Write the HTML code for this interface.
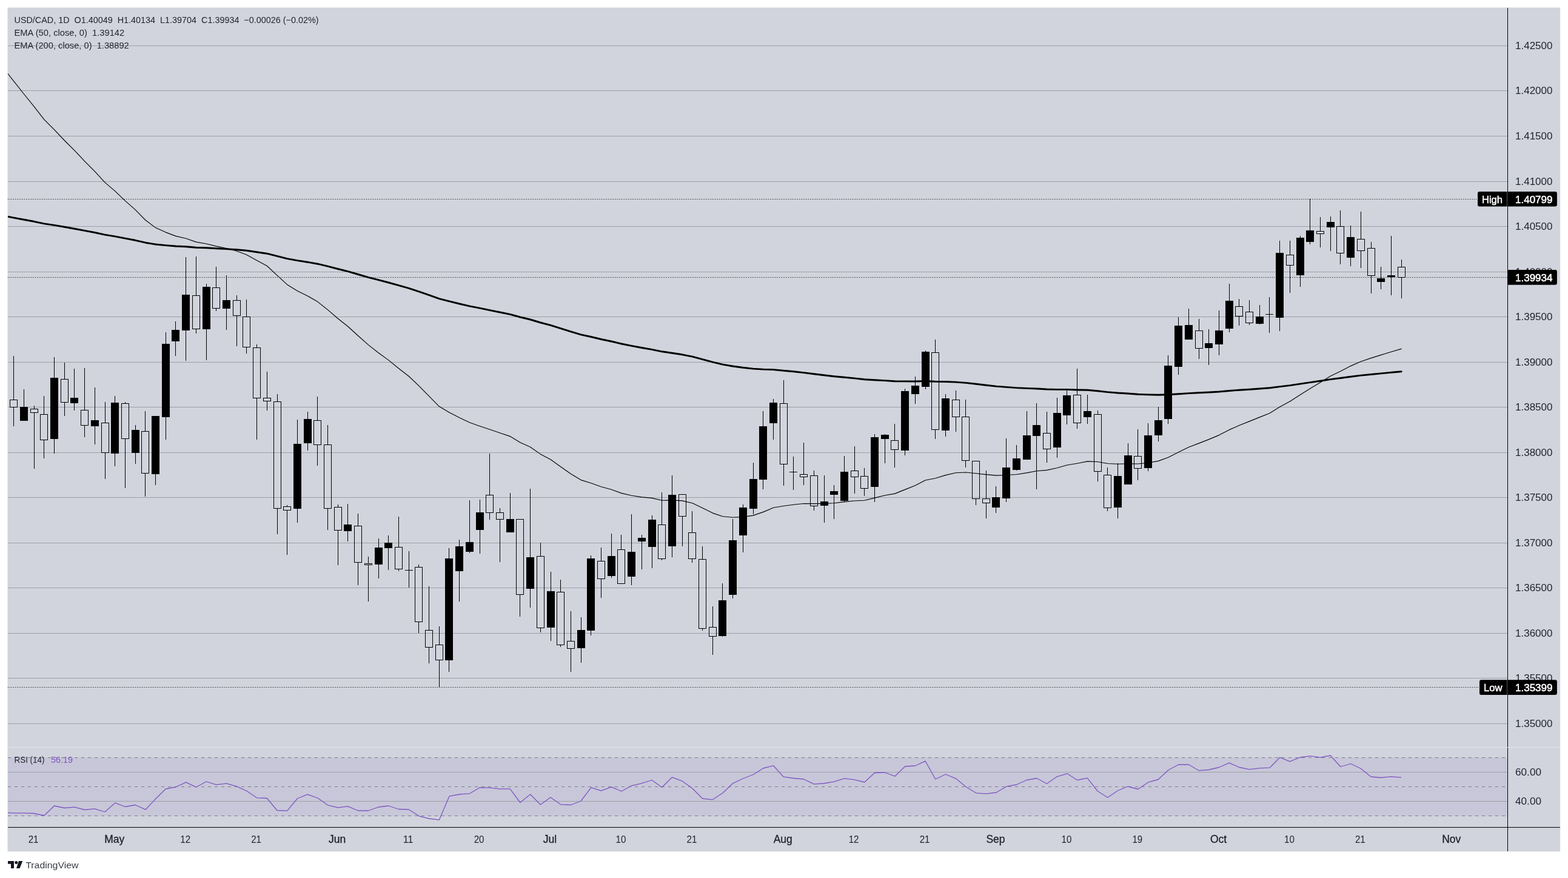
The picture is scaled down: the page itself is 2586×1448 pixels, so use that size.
<!DOCTYPE html>
<html lang="en"><head><meta charset="utf-8"><title>USD/CAD 1D chart</title>
<style>html,body{margin:0;padding:0;background:#fff}body{width:2586px;height:1448px;overflow:hidden}svg{display:block}text{font-family:"Liberation Sans",sans-serif}</style></head><body>
<svg width="2586" height="1448" viewBox="0 0 2586 1448">
<rect width="2586" height="1448" fill="#fff"/>
<rect x="12.5" y="12.5" width="2560.7" height="1391.8" fill="#d1d4dc"/>
<defs><clipPath id="pane"><rect x="13" y="13" width="2473" height="1219"/></clipPath><clipPath id="rpane"><rect x="13" y="1233" width="2473" height="131"/></clipPath></defs>
<g fill="#9d9fa8" shape-rendering="crispEdges">
<rect x="13" y="75" width="2473" height="1"/>
<rect x="13" y="149" width="2473" height="1"/>
<rect x="13" y="224" width="2473" height="1"/>
<rect x="13" y="299" width="2473" height="1"/>
<rect x="13" y="373" width="2473" height="1"/>
<rect x="13" y="448" width="2473" height="1"/>
<rect x="13" y="522" width="2473" height="1"/>
<rect x="13" y="597" width="2473" height="1"/>
<rect x="13" y="671" width="2473" height="1"/>
<rect x="13" y="746" width="2473" height="1"/>
<rect x="13" y="820" width="2473" height="1"/>
<rect x="13" y="895" width="2473" height="1"/>
<rect x="13" y="969" width="2473" height="1"/>
<rect x="13" y="1044" width="2473" height="1"/>
<rect x="13" y="1118" width="2473" height="1"/>
<rect x="13" y="1193" width="2473" height="1"/>
</g>
<rect x="13" y="1249" width="2473" height="97" fill="#7e57c2" fill-opacity="0.1"/>
<g fill="#9d9fa8" shape-rendering="crispEdges"><rect x="13" y="1273" width="2473" height="1"/><rect x="13" y="1321" width="2473" height="1"/></g>
<g stroke="#787b86" stroke-width="1" stroke-dasharray="5 6" shape-rendering="crispEdges">
<line x1="13" y1="1249.5" x2="2486" y2="1249.5"/>
<line x1="13" y1="1297.5" x2="2486" y2="1297.5"/>
<line x1="13" y1="1345.5" x2="2486" y2="1345.5"/>
</g>
<g clip-path="url(#pane)">
<polyline points="6.0,112.8 22.7,133.9 39.4,155.0 56.1,175.6 72.8,197.1 89.5,213.8 106.2,231.5 122.9,248.1 139.6,265.9 156.3,282.7 173.0,300.9 189.7,315.1 206.4,331.1 223.1,345.9 239.9,363.0 256.6,375.6 273.3,383.1 290.0,389.4 306.7,393.2 323.4,399.1 340.1,402.0 356.8,406.1 373.5,409.6 390.2,414.0 406.9,420.2 423.6,429.5 440.3,438.5 457.0,454.2 473.7,469.4 490.4,479.7 507.1,488.0 523.8,497.6 540.5,510.9 557.2,525.2 573.9,538.5 590.6,553.7 607.3,568.6 624.0,581.7 640.7,593.9 657.4,607.5 674.2,620.5 690.9,636.4 707.6,653.3 724.3,670.3 741.0,680.2 757.7,688.8 774.4,696.8 791.1,702.7 807.8,708.2 824.5,714.0 841.2,719.6 857.9,729.8 874.6,737.2 891.3,748.9 908.0,757.8 924.7,769.8 941.4,781.5 958.1,791.6 974.8,796.7 991.5,802.8 1008.2,807.3 1024.9,813.4 1041.6,817.2 1058.3,819.9 1075.0,821.4 1091.7,825.3 1108.5,824.9 1125.2,825.9 1141.9,829.7 1158.6,837.8 1175.3,846.1 1192.0,851.7 1208.7,853.2 1225.4,852.6 1242.1,850.1 1258.8,844.4 1275.5,837.3 1292.2,834.5 1308.9,832.3 1325.6,830.5 1342.3,830.6 1359.0,830.5 1375.7,829.7 1392.4,827.6 1409.1,826.0 1425.8,825.2 1442.5,821.1 1459.2,817.0 1475.9,814.1 1492.6,807.4 1509.3,800.7 1526.1,792.0 1542.8,788.8 1559.5,783.6 1576.2,779.8 1592.9,779.0 1609.6,780.7 1626.3,782.6 1643.0,784.1 1659.7,783.5 1676.4,782.5 1693.1,779.9 1709.8,776.8 1726.5,775.4 1743.2,771.7 1759.9,767.0 1776.6,764.3 1793.3,760.9 1810.0,761.5 1826.7,764.5 1843.4,765.3 1860.1,764.8 1876.8,765.0 1893.5,763.2 1910.2,760.4 1926.9,754.3 1943.6,745.7 1960.4,737.5 1977.1,731.1 1993.8,724.6 2010.5,717.6 2027.2,708.9 2043.9,701.5 2060.6,694.9 2077.3,688.1 2094.0,681.5 2110.7,671.1 2127.4,661.9 2144.1,651.3 2160.8,640.7 2177.5,630.7 2194.2,620.3 2210.9,612.3 2227.6,603.6 2244.3,596.2 2261.0,590.6 2277.7,585.4 2294.4,580.3 2311.1,575.4" fill="none" stroke="#000" stroke-width="1.15" stroke-linejoin="round" stroke-linecap="round" />
<polyline points="6.0,355.9 22.7,359.1 39.4,362.2 56.1,365.3 72.8,368.9 89.5,371.4 106.2,374.3 122.9,377.2 139.6,380.4 156.3,383.5 173.0,387.1 189.7,389.9 206.4,393.2 223.1,396.3 239.9,400.2 256.6,403.0 273.3,404.6 290.0,406.0 306.7,406.8 323.4,408.2 340.1,408.8 356.8,409.8 373.5,410.6 390.2,411.7 406.9,413.3 423.6,415.8 440.3,418.2 457.0,422.4 473.7,426.6 490.4,429.6 507.1,432.2 523.8,435.2 540.5,439.2 557.2,443.5 573.9,447.7 590.6,452.5 607.3,457.3 624.0,461.7 640.7,466.0 657.4,470.7 674.2,475.4 690.9,480.9 707.6,486.7 724.3,492.7 741.0,496.9 757.7,501.0 774.4,504.9 791.1,508.2 807.8,511.6 824.5,515.0 841.2,518.4 857.9,523.0 874.6,527.0 891.3,532.0 908.0,536.4 924.7,541.7 941.4,546.9 958.1,551.8 974.8,555.5 991.5,559.5 1008.2,563.0 1024.9,567.0 1041.6,570.4 1058.3,573.5 1075.0,576.4 1091.7,579.8 1108.5,582.2 1125.2,584.8 1141.9,588.2 1158.6,592.6 1175.3,597.2 1192.0,601.1 1208.7,604.0 1225.4,606.3 1242.1,608.1 1258.8,609.1 1275.5,609.6 1292.2,611.2 1308.9,612.8 1325.6,614.6 1342.3,616.7 1359.0,618.8 1375.7,620.7 1392.4,622.3 1409.1,623.9 1425.8,625.7 1442.5,626.7 1459.2,627.6 1475.9,628.7 1492.6,628.9 1509.3,629.0 1526.1,628.5 1542.8,629.3 1559.5,629.5 1576.2,630.1 1592.9,631.4 1609.6,633.3 1626.3,635.2 1643.0,637.1 1659.7,638.4 1676.4,639.6 1693.1,640.4 1709.8,641.0 1726.5,642.0 1743.2,642.4 1759.9,642.4 1776.6,643.0 1793.3,643.3 1810.0,644.7 1826.7,646.6 1843.4,648.0 1860.1,649.0 1876.8,650.2 1893.5,650.9 1910.2,651.3 1926.9,650.8 1943.6,649.7 1960.4,648.6 1977.1,647.8 1993.8,647.0 2010.5,646.0 2027.2,644.5 2043.9,643.3 2060.6,642.2 2077.3,641.0 2094.0,639.8 2110.7,637.6 2127.4,635.6 2144.1,633.1 2160.8,630.6 2177.5,628.2 2194.2,625.6 2210.9,623.5 2227.6,621.2 2244.3,619.1 2261.0,617.5 2277.7,615.9 2294.4,614.3 2311.1,612.7" fill="none" stroke="#000" stroke-width="2.9" stroke-linejoin="round" stroke-linecap="round" />
</g>
<g stroke="#000" stroke-width="1" stroke-dasharray="1 2" shape-rendering="crispEdges">
<line x1="13" y1="328.5" x2="2437" y2="328.5"/>
<line x1="13" y1="1133.5" x2="2440" y2="1133.5"/>
<line x1="13" y1="457.5" x2="2486" y2="457.5"/>
</g>
<g shape-rendering="crispEdges">
<rect x="22" y="587" width="1" height="72" fill="#000"/>
<rect x="22" y="672" width="1" height="31" fill="#000"/>
<path d="M16 659h13v13h-13zM17 660v11h11v-11z" fill="#000" fill-rule="evenodd"/>
<rect x="39" y="642" width="1" height="52" fill="#000"/>
<rect x="33" y="671" width="13" height="23" fill="#000"/>
<rect x="56" y="669" width="1" height="5" fill="#000"/>
<rect x="56" y="681" width="1" height="92" fill="#000"/>
<path d="M50 674h13v7h-13zM51 675v5h11v-5z" fill="#000" fill-rule="evenodd"/>
<rect x="72" y="653" width="1" height="30" fill="#000"/>
<rect x="72" y="726" width="1" height="30" fill="#000"/>
<path d="M66 683h13v43h-13zM67 684v41h11v-41z" fill="#000" fill-rule="evenodd"/>
<rect x="89" y="589" width="1" height="159" fill="#000"/>
<rect x="83" y="623" width="13" height="101" fill="#000"/>
<rect x="106" y="598" width="1" height="27" fill="#000"/>
<rect x="106" y="664" width="1" height="22" fill="#000"/>
<path d="M100 625h13v39h-13zM101 626v37h11v-37z" fill="#000" fill-rule="evenodd"/>
<rect x="122" y="608" width="1" height="69" fill="#000"/>
<rect x="116" y="656" width="13" height="9" fill="#000"/>
<rect x="139" y="607" width="1" height="69" fill="#000"/>
<rect x="139" y="702" width="1" height="19" fill="#000"/>
<path d="M133 676h13v26h-13zM134 677v24h11v-24z" fill="#000" fill-rule="evenodd"/>
<rect x="156" y="639" width="1" height="94" fill="#000"/>
<rect x="150" y="693" width="13" height="10" fill="#000"/>
<rect x="173" y="663" width="1" height="34" fill="#000"/>
<rect x="173" y="747" width="1" height="43" fill="#000"/>
<path d="M167 697h13v50h-13zM168 698v48h11v-48z" fill="#000" fill-rule="evenodd"/>
<rect x="189" y="653" width="1" height="116" fill="#000"/>
<rect x="183" y="664" width="13" height="84" fill="#000"/>
<rect x="206" y="663" width="1" height="2" fill="#000"/>
<rect x="206" y="724" width="1" height="81" fill="#000"/>
<path d="M200 665h13v59h-13zM201 666v57h11v-57z" fill="#000" fill-rule="evenodd"/>
<rect x="223" y="701" width="1" height="64" fill="#000"/>
<rect x="217" y="709" width="13" height="38" fill="#000"/>
<rect x="239" y="678" width="1" height="33" fill="#000"/>
<rect x="239" y="781" width="1" height="38" fill="#000"/>
<path d="M233 711h13v70h-13zM234 712v68h11v-68z" fill="#000" fill-rule="evenodd"/>
<rect x="256" y="686" width="1" height="114" fill="#000"/>
<rect x="250" y="686" width="13" height="96" fill="#000"/>
<rect x="273" y="548" width="1" height="177" fill="#000"/>
<rect x="267" y="567" width="13" height="121" fill="#000"/>
<rect x="289" y="530" width="1" height="57" fill="#000"/>
<rect x="283" y="544" width="13" height="19" fill="#000"/>
<rect x="306" y="424" width="1" height="171" fill="#000"/>
<rect x="300" y="486" width="13" height="59" fill="#000"/>
<rect x="323" y="423" width="1" height="64" fill="#000"/>
<rect x="323" y="543" width="1" height="7" fill="#000"/>
<path d="M317 487h13v56h-13zM318 488v54h11v-54z" fill="#000" fill-rule="evenodd"/>
<rect x="340" y="468" width="1" height="126" fill="#000"/>
<rect x="334" y="473" width="13" height="70" fill="#000"/>
<rect x="356" y="440" width="1" height="34" fill="#000"/>
<rect x="356" y="509" width="1" height="4" fill="#000"/>
<path d="M350 474h13v35h-13zM351 475v33h11v-33z" fill="#000" fill-rule="evenodd"/>
<rect x="373" y="454" width="1" height="90" fill="#000"/>
<rect x="367" y="495" width="13" height="14" fill="#000"/>
<rect x="390" y="487" width="1" height="8" fill="#000"/>
<rect x="390" y="521" width="1" height="50" fill="#000"/>
<path d="M384 495h13v26h-13zM385 496v24h11v-24z" fill="#000" fill-rule="evenodd"/>
<rect x="406" y="494" width="1" height="28" fill="#000"/>
<rect x="406" y="573" width="1" height="10" fill="#000"/>
<path d="M400 522h13v51h-13zM401 523v49h11v-49z" fill="#000" fill-rule="evenodd"/>
<rect x="423" y="568" width="1" height="5" fill="#000"/>
<rect x="423" y="657" width="1" height="68" fill="#000"/>
<path d="M417 573h13v84h-13zM418 574v82h11v-82z" fill="#000" fill-rule="evenodd"/>
<rect x="440" y="613" width="1" height="43" fill="#000"/>
<rect x="440" y="662" width="1" height="15" fill="#000"/>
<path d="M434 656h13v6h-13zM435 657v4h11v-4z" fill="#000" fill-rule="evenodd"/>
<rect x="457" y="650" width="1" height="12" fill="#000"/>
<rect x="457" y="839" width="1" height="42" fill="#000"/>
<path d="M451 662h13v177h-13zM452 663v175h11v-175z" fill="#000" fill-rule="evenodd"/>
<rect x="473" y="833" width="1" height="2" fill="#000"/>
<rect x="473" y="842" width="1" height="73" fill="#000"/>
<path d="M467 835h13v7h-13zM468 836v5h11v-5z" fill="#000" fill-rule="evenodd"/>
<rect x="490" y="692" width="1" height="170" fill="#000"/>
<rect x="484" y="732" width="13" height="107" fill="#000"/>
<rect x="507" y="679" width="1" height="64" fill="#000"/>
<rect x="501" y="691" width="13" height="40" fill="#000"/>
<rect x="523" y="654" width="1" height="39" fill="#000"/>
<rect x="523" y="734" width="1" height="34" fill="#000"/>
<path d="M517 693h13v41h-13zM518 694v39h11v-39z" fill="#000" fill-rule="evenodd"/>
<rect x="540" y="701" width="1" height="32" fill="#000"/>
<rect x="540" y="839" width="1" height="35" fill="#000"/>
<path d="M534 733h13v106h-13zM535 734v104h11v-104z" fill="#000" fill-rule="evenodd"/>
<rect x="557" y="832" width="1" height="4" fill="#000"/>
<rect x="557" y="875" width="1" height="57" fill="#000"/>
<path d="M551 836h13v39h-13zM552 837v37h11v-37z" fill="#000" fill-rule="evenodd"/>
<rect x="573" y="831" width="1" height="62" fill="#000"/>
<rect x="567" y="865" width="13" height="11" fill="#000"/>
<rect x="590" y="847" width="1" height="20" fill="#000"/>
<rect x="590" y="928" width="1" height="37" fill="#000"/>
<path d="M584 867h13v61h-13zM585 868v59h11v-59z" fill="#000" fill-rule="evenodd"/>
<rect x="607" y="918" width="1" height="11" fill="#000"/>
<rect x="607" y="932" width="1" height="60" fill="#000"/>
<path d="M601 929h13v3h-13zM602 930v1h11v-1z" fill="#000" fill-rule="evenodd"/>
<rect x="624" y="888" width="1" height="66" fill="#000"/>
<rect x="618" y="903" width="13" height="28" fill="#000"/>
<rect x="640" y="883" width="1" height="57" fill="#000"/>
<rect x="634" y="895" width="13" height="9" fill="#000"/>
<rect x="657" y="852" width="1" height="50" fill="#000"/>
<rect x="657" y="939" width="1" height="3" fill="#000"/>
<path d="M651 902h13v37h-13zM652 903v35h11v-35z" fill="#000" fill-rule="evenodd"/>
<rect x="674" y="909" width="1" height="60" fill="#000"/>
<rect x="668" y="940" width="13" height="1" fill="#000"/>
<rect x="690" y="931" width="1" height="4" fill="#000"/>
<rect x="690" y="1026" width="1" height="18" fill="#000"/>
<path d="M684 935h13v91h-13zM685 936v89h11v-89z" fill="#000" fill-rule="evenodd"/>
<rect x="707" y="967" width="1" height="72" fill="#000"/>
<rect x="707" y="1068" width="1" height="26" fill="#000"/>
<path d="M701 1039h13v29h-13zM702 1040v27h11v-27z" fill="#000" fill-rule="evenodd"/>
<rect x="724" y="1033" width="1" height="30" fill="#000"/>
<rect x="724" y="1089" width="1" height="44" fill="#000"/>
<path d="M718 1063h13v26h-13zM719 1064v24h11v-24z" fill="#000" fill-rule="evenodd"/>
<rect x="740" y="904" width="1" height="204" fill="#000"/>
<rect x="734" y="921" width="13" height="168" fill="#000"/>
<rect x="757" y="890" width="1" height="102" fill="#000"/>
<rect x="751" y="901" width="13" height="41" fill="#000"/>
<rect x="774" y="825" width="1" height="87" fill="#000"/>
<rect x="768" y="894" width="13" height="16" fill="#000"/>
<rect x="791" y="824" width="1" height="89" fill="#000"/>
<rect x="785" y="845" width="13" height="29" fill="#000"/>
<rect x="807" y="748" width="1" height="68" fill="#000"/>
<rect x="807" y="846" width="1" height="11" fill="#000"/>
<path d="M801 816h13v30h-13zM802 817v28h11v-28z" fill="#000" fill-rule="evenodd"/>
<rect x="824" y="838" width="1" height="7" fill="#000"/>
<rect x="824" y="857" width="1" height="70" fill="#000"/>
<path d="M818 845h13v12h-13zM819 846v10h11v-10z" fill="#000" fill-rule="evenodd"/>
<rect x="841" y="813" width="1" height="65" fill="#000"/>
<rect x="835" y="856" width="13" height="22" fill="#000"/>
<rect x="857" y="981" width="1" height="36" fill="#000"/>
<path d="M851 856h13v125h-13zM852 857v123h11v-123z" fill="#000" fill-rule="evenodd"/>
<rect x="874" y="806" width="1" height="196" fill="#000"/>
<rect x="868" y="919" width="13" height="52" fill="#000"/>
<rect x="891" y="895" width="1" height="22" fill="#000"/>
<rect x="891" y="1036" width="1" height="7" fill="#000"/>
<path d="M885 917h13v119h-13zM886 918v117h11v-117z" fill="#000" fill-rule="evenodd"/>
<rect x="908" y="943" width="1" height="114" fill="#000"/>
<rect x="902" y="975" width="13" height="60" fill="#000"/>
<rect x="924" y="956" width="1" height="20" fill="#000"/>
<rect x="924" y="1064" width="1" height="3" fill="#000"/>
<path d="M918 976h13v88h-13zM919 977v86h11v-86z" fill="#000" fill-rule="evenodd"/>
<rect x="941" y="1008" width="1" height="49" fill="#000"/>
<rect x="941" y="1070" width="1" height="38" fill="#000"/>
<path d="M935 1057h13v13h-13zM936 1058v11h11v-11z" fill="#000" fill-rule="evenodd"/>
<rect x="958" y="1018" width="1" height="75" fill="#000"/>
<rect x="952" y="1039" width="13" height="30" fill="#000"/>
<rect x="974" y="916" width="1" height="132" fill="#000"/>
<rect x="968" y="921" width="13" height="119" fill="#000"/>
<rect x="991" y="903" width="1" height="22" fill="#000"/>
<rect x="991" y="955" width="1" height="31" fill="#000"/>
<path d="M985 925h13v30h-13zM986 926v28h11v-28z" fill="#000" fill-rule="evenodd"/>
<rect x="1008" y="880" width="1" height="73" fill="#000"/>
<rect x="1002" y="917" width="13" height="33" fill="#000"/>
<rect x="1024" y="882" width="1" height="24" fill="#000"/>
<path d="M1018 906h13v57h-13zM1019 907v55h11v-55z" fill="#000" fill-rule="evenodd"/>
<rect x="1041" y="848" width="1" height="117" fill="#000"/>
<rect x="1035" y="910" width="13" height="41" fill="#000"/>
<rect x="1058" y="882" width="1" height="57" fill="#000"/>
<rect x="1052" y="887" width="13" height="6" fill="#000"/>
<rect x="1075" y="850" width="1" height="87" fill="#000"/>
<rect x="1069" y="857" width="13" height="45" fill="#000"/>
<rect x="1091" y="812" width="1" height="53" fill="#000"/>
<rect x="1091" y="922" width="1" height="2" fill="#000"/>
<path d="M1085 865h13v57h-13zM1086 866v55h11v-55z" fill="#000" fill-rule="evenodd"/>
<rect x="1108" y="784" width="1" height="135" fill="#000"/>
<rect x="1102" y="816" width="13" height="85" fill="#000"/>
<rect x="1125" y="852" width="1" height="49" fill="#000"/>
<path d="M1119 815h13v37h-13zM1120 816v35h11v-35z" fill="#000" fill-rule="evenodd"/>
<rect x="1141" y="843" width="1" height="35" fill="#000"/>
<rect x="1141" y="922" width="1" height="6" fill="#000"/>
<path d="M1135 878h13v44h-13zM1136 879v42h11v-42z" fill="#000" fill-rule="evenodd"/>
<rect x="1158" y="901" width="1" height="21" fill="#000"/>
<rect x="1158" y="1037" width="1" height="3" fill="#000"/>
<path d="M1152 922h13v115h-13zM1153 923v113h11v-113z" fill="#000" fill-rule="evenodd"/>
<rect x="1175" y="1000" width="1" height="34" fill="#000"/>
<rect x="1175" y="1050" width="1" height="30" fill="#000"/>
<path d="M1169 1034h13v16h-13zM1170 1035v14h11v-14z" fill="#000" fill-rule="evenodd"/>
<rect x="1191" y="962" width="1" height="88" fill="#000"/>
<rect x="1185" y="990" width="13" height="59" fill="#000"/>
<rect x="1208" y="856" width="1" height="131" fill="#000"/>
<rect x="1202" y="891" width="13" height="90" fill="#000"/>
<rect x="1225" y="832" width="1" height="79" fill="#000"/>
<rect x="1219" y="837" width="13" height="46" fill="#000"/>
<rect x="1242" y="763" width="1" height="85" fill="#000"/>
<rect x="1236" y="790" width="13" height="49" fill="#000"/>
<rect x="1258" y="678" width="1" height="129" fill="#000"/>
<rect x="1252" y="703" width="13" height="88" fill="#000"/>
<rect x="1275" y="658" width="1" height="67" fill="#000"/>
<rect x="1269" y="664" width="13" height="34" fill="#000"/>
<rect x="1292" y="627" width="1" height="38" fill="#000"/>
<rect x="1292" y="766" width="1" height="35" fill="#000"/>
<path d="M1286 665h13v101h-13zM1287 666v99h11v-99z" fill="#000" fill-rule="evenodd"/>
<rect x="1308" y="753" width="1" height="55" fill="#000"/>
<rect x="1302" y="778" width="13" height="1" fill="#000"/>
<rect x="1325" y="730" width="1" height="52" fill="#000"/>
<rect x="1325" y="787" width="1" height="13" fill="#000"/>
<path d="M1319 782h13v5h-13zM1320 783v3h11v-3z" fill="#000" fill-rule="evenodd"/>
<rect x="1342" y="776" width="1" height="8" fill="#000"/>
<rect x="1342" y="835" width="1" height="7" fill="#000"/>
<path d="M1336 784h13v51h-13zM1337 785v49h11v-49z" fill="#000" fill-rule="evenodd"/>
<rect x="1359" y="784" width="1" height="78" fill="#000"/>
<rect x="1353" y="827" width="13" height="7" fill="#000"/>
<rect x="1375" y="800" width="1" height="56" fill="#000"/>
<rect x="1369" y="810" width="13" height="6" fill="#000"/>
<rect x="1392" y="752" width="1" height="76" fill="#000"/>
<rect x="1386" y="778" width="13" height="48" fill="#000"/>
<rect x="1409" y="736" width="1" height="40" fill="#000"/>
<rect x="1409" y="787" width="1" height="27" fill="#000"/>
<path d="M1403 776h13v11h-13zM1404 777v9h11v-9z" fill="#000" fill-rule="evenodd"/>
<rect x="1425" y="772" width="1" height="13" fill="#000"/>
<rect x="1425" y="806" width="1" height="12" fill="#000"/>
<path d="M1419 785h13v21h-13zM1420 786v19h11v-19z" fill="#000" fill-rule="evenodd"/>
<rect x="1442" y="716" width="1" height="112" fill="#000"/>
<rect x="1436" y="721" width="13" height="82" fill="#000"/>
<rect x="1459" y="716" width="1" height="48" fill="#000"/>
<rect x="1453" y="717" width="13" height="7" fill="#000"/>
<rect x="1475" y="699" width="1" height="27" fill="#000"/>
<rect x="1475" y="742" width="1" height="29" fill="#000"/>
<path d="M1469 726h13v16h-13zM1470 727v14h11v-14z" fill="#000" fill-rule="evenodd"/>
<rect x="1492" y="641" width="1" height="110" fill="#000"/>
<rect x="1486" y="645" width="13" height="98" fill="#000"/>
<rect x="1509" y="621" width="1" height="45" fill="#000"/>
<rect x="1503" y="636" width="13" height="14" fill="#000"/>
<rect x="1526" y="578" width="1" height="64" fill="#000"/>
<rect x="1520" y="580" width="13" height="58" fill="#000"/>
<rect x="1542" y="560" width="1" height="21" fill="#000"/>
<rect x="1542" y="709" width="1" height="15" fill="#000"/>
<path d="M1536 581h13v128h-13zM1537 582v126h11v-126z" fill="#000" fill-rule="evenodd"/>
<rect x="1559" y="650" width="1" height="70" fill="#000"/>
<rect x="1553" y="657" width="13" height="53" fill="#000"/>
<rect x="1576" y="644" width="1" height="15" fill="#000"/>
<rect x="1576" y="688" width="1" height="24" fill="#000"/>
<path d="M1570 659h13v29h-13zM1571 660v27h11v-27z" fill="#000" fill-rule="evenodd"/>
<rect x="1592" y="659" width="1" height="28" fill="#000"/>
<rect x="1592" y="760" width="1" height="11" fill="#000"/>
<path d="M1586 687h13v73h-13zM1587 688v71h11v-71z" fill="#000" fill-rule="evenodd"/>
<rect x="1609" y="823" width="1" height="10" fill="#000"/>
<path d="M1603 760h13v63h-13zM1604 761v61h11v-61z" fill="#000" fill-rule="evenodd"/>
<rect x="1626" y="776" width="1" height="46" fill="#000"/>
<rect x="1626" y="830" width="1" height="25" fill="#000"/>
<path d="M1620 822h13v8h-13zM1621 823v6h11v-6z" fill="#000" fill-rule="evenodd"/>
<rect x="1642" y="802" width="1" height="44" fill="#000"/>
<rect x="1636" y="820" width="13" height="17" fill="#000"/>
<rect x="1659" y="723" width="1" height="105" fill="#000"/>
<rect x="1653" y="771" width="13" height="51" fill="#000"/>
<rect x="1676" y="734" width="1" height="42" fill="#000"/>
<rect x="1670" y="756" width="13" height="19" fill="#000"/>
<rect x="1693" y="678" width="1" height="80" fill="#000"/>
<rect x="1687" y="718" width="13" height="40" fill="#000"/>
<rect x="1709" y="665" width="1" height="142" fill="#000"/>
<rect x="1703" y="701" width="13" height="18" fill="#000"/>
<rect x="1726" y="679" width="1" height="35" fill="#000"/>
<rect x="1726" y="741" width="1" height="22" fill="#000"/>
<path d="M1720 714h13v27h-13zM1721 715v25h11v-25z" fill="#000" fill-rule="evenodd"/>
<rect x="1743" y="656" width="1" height="99" fill="#000"/>
<rect x="1737" y="681" width="13" height="57" fill="#000"/>
<rect x="1759" y="644" width="1" height="56" fill="#000"/>
<rect x="1753" y="652" width="13" height="33" fill="#000"/>
<rect x="1776" y="608" width="1" height="43" fill="#000"/>
<rect x="1776" y="698" width="1" height="9" fill="#000"/>
<path d="M1770 651h13v47h-13zM1771 652v45h11v-45z" fill="#000" fill-rule="evenodd"/>
<rect x="1793" y="651" width="1" height="48" fill="#000"/>
<rect x="1787" y="678" width="13" height="10" fill="#000"/>
<rect x="1810" y="677" width="1" height="6" fill="#000"/>
<rect x="1810" y="778" width="1" height="16" fill="#000"/>
<path d="M1804 683h13v95h-13zM1805 684v93h11v-93z" fill="#000" fill-rule="evenodd"/>
<rect x="1826" y="771" width="1" height="12" fill="#000"/>
<rect x="1826" y="838" width="1" height="5" fill="#000"/>
<path d="M1820 783h13v55h-13zM1821 784v53h11v-53z" fill="#000" fill-rule="evenodd"/>
<rect x="1843" y="764" width="1" height="91" fill="#000"/>
<rect x="1837" y="785" width="13" height="52" fill="#000"/>
<rect x="1860" y="731" width="1" height="68" fill="#000"/>
<rect x="1854" y="751" width="13" height="48" fill="#000"/>
<rect x="1876" y="708" width="1" height="44" fill="#000"/>
<rect x="1876" y="773" width="1" height="19" fill="#000"/>
<path d="M1870 752h13v21h-13zM1871 753v19h11v-19z" fill="#000" fill-rule="evenodd"/>
<rect x="1893" y="698" width="1" height="79" fill="#000"/>
<rect x="1887" y="718" width="13" height="54" fill="#000"/>
<rect x="1910" y="671" width="1" height="57" fill="#000"/>
<rect x="1904" y="693" width="13" height="25" fill="#000"/>
<rect x="1926" y="586" width="1" height="113" fill="#000"/>
<rect x="1920" y="603" width="13" height="88" fill="#000"/>
<rect x="1943" y="523" width="1" height="95" fill="#000"/>
<rect x="1937" y="537" width="13" height="68" fill="#000"/>
<rect x="1960" y="509" width="1" height="51" fill="#000"/>
<rect x="1954" y="536" width="13" height="24" fill="#000"/>
<rect x="1977" y="526" width="1" height="19" fill="#000"/>
<rect x="1977" y="575" width="1" height="17" fill="#000"/>
<path d="M1971 545h13v30h-13zM1972 546v28h11v-28z" fill="#000" fill-rule="evenodd"/>
<rect x="1993" y="543" width="1" height="59" fill="#000"/>
<rect x="1987" y="566" width="13" height="8" fill="#000"/>
<rect x="2010" y="512" width="1" height="74" fill="#000"/>
<rect x="2004" y="545" width="13" height="23" fill="#000"/>
<rect x="2027" y="468" width="1" height="80" fill="#000"/>
<rect x="2021" y="496" width="13" height="46" fill="#000"/>
<rect x="2043" y="493" width="1" height="12" fill="#000"/>
<rect x="2043" y="522" width="1" height="15" fill="#000"/>
<path d="M2037 505h13v17h-13zM2038 506v15h11v-15z" fill="#000" fill-rule="evenodd"/>
<rect x="2060" y="495" width="1" height="19" fill="#000"/>
<rect x="2060" y="533" width="1" height="3" fill="#000"/>
<path d="M2054 514h13v19h-13zM2055 515v17h11v-17z" fill="#000" fill-rule="evenodd"/>
<rect x="2077" y="503" width="1" height="32" fill="#000"/>
<rect x="2071" y="522" width="13" height="12" fill="#000"/>
<rect x="2093" y="490" width="1" height="59" fill="#000"/>
<rect x="2087" y="518" width="13" height="1" fill="#000"/>
<rect x="2110" y="397" width="1" height="149" fill="#000"/>
<rect x="2104" y="417" width="13" height="107" fill="#000"/>
<rect x="2127" y="397" width="1" height="23" fill="#000"/>
<rect x="2127" y="438" width="1" height="45" fill="#000"/>
<path d="M2121 420h13v18h-13zM2122 421v16h11v-16z" fill="#000" fill-rule="evenodd"/>
<rect x="2144" y="389" width="1" height="84" fill="#000"/>
<rect x="2138" y="392" width="13" height="62" fill="#000"/>
<rect x="2160" y="328" width="1" height="75" fill="#000"/>
<rect x="2154" y="380" width="13" height="19" fill="#000"/>
<rect x="2177" y="358" width="1" height="23" fill="#000"/>
<rect x="2177" y="386" width="1" height="22" fill="#000"/>
<path d="M2171 381h13v5h-13zM2172 382v3h11v-3z" fill="#000" fill-rule="evenodd"/>
<rect x="2194" y="357" width="1" height="57" fill="#000"/>
<rect x="2188" y="366" width="13" height="9" fill="#000"/>
<rect x="2210" y="347" width="1" height="26" fill="#000"/>
<rect x="2210" y="418" width="1" height="18" fill="#000"/>
<path d="M2204 373h13v45h-13zM2205 374v43h11v-43z" fill="#000" fill-rule="evenodd"/>
<rect x="2227" y="372" width="1" height="67" fill="#000"/>
<rect x="2221" y="391" width="13" height="34" fill="#000"/>
<rect x="2244" y="349" width="1" height="45" fill="#000"/>
<rect x="2244" y="414" width="1" height="28" fill="#000"/>
<path d="M2238 394h13v20h-13zM2239 395v18h11v-18z" fill="#000" fill-rule="evenodd"/>
<rect x="2261" y="399" width="1" height="10" fill="#000"/>
<rect x="2261" y="455" width="1" height="29" fill="#000"/>
<path d="M2255 409h13v46h-13zM2256 410v44h11v-44z" fill="#000" fill-rule="evenodd"/>
<rect x="2277" y="440" width="1" height="37" fill="#000"/>
<rect x="2271" y="459" width="13" height="6" fill="#000"/>
<rect x="2294" y="389" width="1" height="98" fill="#000"/>
<rect x="2288" y="454" width="13" height="3" fill="#000"/>
<rect x="2311" y="428" width="1" height="12" fill="#000"/>
<rect x="2311" y="458" width="1" height="34" fill="#000"/>
<path d="M2305 440h13v18h-13zM2306 441v16h11v-16z" fill="#000" fill-rule="evenodd"/>
</g>
<g clip-path="url(#rpane)"><polyline points="6.0,1340.2 22.7,1340.8 39.4,1340.8 56.1,1341.5 72.8,1345.0 89.5,1329.0 106.2,1332.5 122.9,1331.2 139.6,1335.5 156.3,1333.8 173.0,1339.0 189.7,1324.2 206.4,1330.5 223.1,1327.5 239.9,1335.2 256.6,1317.5 273.3,1301.0 290.0,1298.0 306.7,1290.2 323.4,1298.2 340.1,1289.0 356.8,1294.2 373.5,1292.2 390.2,1296.8 406.9,1304.5 423.6,1315.8 440.3,1316.5 457.0,1336.5 473.7,1337.2 490.4,1317.0 507.1,1310.2 523.8,1316.0 540.5,1327.8 557.2,1331.8 573.9,1329.8 590.6,1337.0 607.3,1337.0 624.0,1331.0 640.7,1329.0 657.4,1334.5 674.2,1335.0 690.9,1345.8 707.6,1350.0 724.3,1352.2 741.0,1313.2 757.7,1310.0 774.4,1308.8 791.1,1299.0 807.8,1299.2 824.5,1301.2 841.2,1301.2 857.9,1323.5 874.6,1310.0 891.3,1327.0 908.0,1315.0 924.7,1326.8 941.4,1327.5 958.1,1321.0 974.8,1298.8 991.5,1304.2 1008.2,1297.8 1024.9,1305.0 1041.6,1295.8 1058.3,1291.8 1075.0,1286.5 1091.7,1298.5 1108.5,1281.8 1125.2,1288.2 1141.9,1300.2 1158.6,1317.0 1175.3,1318.8 1192.0,1307.8 1208.7,1291.8 1225.4,1284.0 1242.1,1277.5 1258.8,1267.0 1275.5,1262.8 1292.2,1281.2 1308.9,1283.5 1325.6,1285.0 1342.3,1293.2 1359.0,1292.0 1375.7,1289.2 1392.4,1283.8 1409.1,1285.8 1425.8,1290.0 1442.5,1274.5 1459.2,1274.0 1475.9,1280.2 1492.6,1264.0 1509.3,1263.0 1526.1,1255.2 1542.8,1285.0 1559.5,1277.0 1576.2,1283.8 1592.9,1297.5 1609.6,1307.8 1626.3,1309.2 1643.0,1307.0 1659.7,1297.2 1676.4,1294.0 1693.1,1286.5 1709.8,1283.5 1726.5,1292.5 1743.2,1280.8 1759.9,1275.8 1776.6,1286.5 1793.3,1283.2 1810.0,1304.5 1826.7,1315.2 1843.4,1304.0 1860.1,1297.0 1876.8,1301.5 1893.5,1290.2 1910.2,1285.5 1926.9,1270.0 1943.6,1261.0 1960.4,1261.0 1977.1,1270.8 1993.8,1269.5 2010.5,1265.5 2027.2,1258.2 2043.9,1265.5 2060.6,1268.8 2077.3,1266.8 2094.0,1266.2 2110.7,1249.2 2127.4,1255.8 2144.1,1249.0 2160.8,1246.8 2177.5,1249.2 2194.2,1246.0 2210.9,1264.5 2227.6,1259.5 2244.3,1267.5 2261.0,1281.0 2277.7,1282.5 2294.4,1280.8 2311.1,1282.2" fill="none" stroke="#7e57c2" stroke-width="1.3" stroke-linejoin="round"/></g>
<g shape-rendering="crispEdges">
<rect x="2486" y="13" width="1" height="1391" fill="#000"/>
<rect x="13" y="1364" width="2560" height="1" fill="#000"/>
<rect x="13" y="1232" width="2560" height="1" fill="#e0e3eb"/>
</g>
<text x="2499" y="80.9" font-size="17.3" text-anchor="start" fill="#1e212b" font-weight="normal" textLength="61.5" lengthAdjust="spacingAndGlyphs">1.42500</text>
<text x="2499" y="154.9" font-size="17.3" text-anchor="start" fill="#1e212b" font-weight="normal" textLength="61.5" lengthAdjust="spacingAndGlyphs">1.42000</text>
<text x="2499" y="229.9" font-size="17.3" text-anchor="start" fill="#1e212b" font-weight="normal" textLength="61.5" lengthAdjust="spacingAndGlyphs">1.41500</text>
<text x="2499" y="304.9" font-size="17.3" text-anchor="start" fill="#1e212b" font-weight="normal" textLength="61.5" lengthAdjust="spacingAndGlyphs">1.41000</text>
<text x="2499" y="378.9" font-size="17.3" text-anchor="start" fill="#1e212b" font-weight="normal" textLength="61.5" lengthAdjust="spacingAndGlyphs">1.40500</text>
<text x="2499" y="453.9" font-size="17.3" text-anchor="start" fill="#1e212b" font-weight="normal" textLength="61.5" lengthAdjust="spacingAndGlyphs">1.40000</text>
<text x="2499" y="527.9" font-size="17.3" text-anchor="start" fill="#1e212b" font-weight="normal" textLength="61.5" lengthAdjust="spacingAndGlyphs">1.39500</text>
<text x="2499" y="602.9" font-size="17.3" text-anchor="start" fill="#1e212b" font-weight="normal" textLength="61.5" lengthAdjust="spacingAndGlyphs">1.39000</text>
<text x="2499" y="676.9" font-size="17.3" text-anchor="start" fill="#1e212b" font-weight="normal" textLength="61.5" lengthAdjust="spacingAndGlyphs">1.38500</text>
<text x="2499" y="751.9" font-size="17.3" text-anchor="start" fill="#1e212b" font-weight="normal" textLength="61.5" lengthAdjust="spacingAndGlyphs">1.38000</text>
<text x="2499" y="825.9" font-size="17.3" text-anchor="start" fill="#1e212b" font-weight="normal" textLength="61.5" lengthAdjust="spacingAndGlyphs">1.37500</text>
<text x="2499" y="900.9" font-size="17.3" text-anchor="start" fill="#1e212b" font-weight="normal" textLength="61.5" lengthAdjust="spacingAndGlyphs">1.37000</text>
<text x="2499" y="974.9" font-size="17.3" text-anchor="start" fill="#1e212b" font-weight="normal" textLength="61.5" lengthAdjust="spacingAndGlyphs">1.36500</text>
<text x="2499" y="1049.9" font-size="17.3" text-anchor="start" fill="#1e212b" font-weight="normal" textLength="61.5" lengthAdjust="spacingAndGlyphs">1.36000</text>
<text x="2499" y="1123.9" font-size="17.3" text-anchor="start" fill="#1e212b" font-weight="normal" textLength="61.5" lengthAdjust="spacingAndGlyphs">1.35500</text>
<text x="2499" y="1198.9" font-size="17.3" text-anchor="start" fill="#1e212b" font-weight="normal" textLength="61.5" lengthAdjust="spacingAndGlyphs">1.35000</text>
<text x="2499" y="1278.9" font-size="17.3" text-anchor="start" fill="#1e212b" font-weight="normal" textLength="43" lengthAdjust="spacingAndGlyphs">60.00</text>
<text x="2499" y="1326.9" font-size="17.3" text-anchor="start" fill="#1e212b" font-weight="normal" textLength="43" lengthAdjust="spacingAndGlyphs">40.00</text>
<path d="M2440 316H2485.6V340.6H2440A3 3 0 0 1 2437 337.6V319A3 3 0 0 1 2440 316Z" fill="#000"/>
<path d="M2486.9 316H2564.9A3 3 0 0 1 2567.9 319V337.6A3 3 0 0 1 2564.9 340.6H2486.9Z" fill="#000"/>
<text x="2444" y="334.5" font-size="17" text-anchor="start" fill="#fff" font-weight="normal" textLength="34" lengthAdjust="spacingAndGlyphs" stroke="#fff" stroke-width="0.55">High</text>
<text x="2499" y="334.5" font-size="17" text-anchor="start" fill="#fff" font-weight="normal" textLength="61.5" lengthAdjust="spacingAndGlyphs" stroke="#fff" stroke-width="0.55">1.40799</text>
<path d="M2443 1121.3H2485.6V1145.8999999999999H2443A3 3 0 0 1 2440 1142.8999999999999V1124.3A3 3 0 0 1 2443 1121.3Z" fill="#000"/>
<path d="M2486.9 1121.3H2564.9A3 3 0 0 1 2567.9 1124.3V1142.8999999999999A3 3 0 0 1 2564.9 1145.8999999999999H2486.9Z" fill="#000"/>
<text x="2447" y="1139.8" font-size="17" text-anchor="start" fill="#fff" font-weight="normal" textLength="30.5" lengthAdjust="spacingAndGlyphs" stroke="#fff" stroke-width="0.55">Low</text>
<text x="2499" y="1139.8" font-size="17" text-anchor="start" fill="#fff" font-weight="normal" textLength="61.5" lengthAdjust="spacingAndGlyphs" stroke="#fff" stroke-width="0.55">1.35399</text>
<path d="M2486.9 445.1H2564.9A3 3 0 0 1 2567.9 448.1V466.70000000000005A3 3 0 0 1 2564.9 469.70000000000005H2486.9Z" fill="#000"/>
<text x="2499" y="463.5" font-size="17" text-anchor="start" fill="#fff" font-weight="normal" textLength="61.5" lengthAdjust="spacingAndGlyphs" stroke="#fff" stroke-width="0.55">1.39934</text>
<text x="55.1" y="1389.8" font-size="17" text-anchor="middle" fill="#1e212b" font-weight="normal" textLength="16.8" lengthAdjust="spacingAndGlyphs">21</text>
<text x="188.7" y="1389.8" font-size="17.5" text-anchor="middle" fill="#1e212b" font-weight="normal" stroke="#1e212b" stroke-width="0.3">May</text>
<text x="305.7" y="1389.8" font-size="17" text-anchor="middle" fill="#1e212b" font-weight="normal" textLength="16.8" lengthAdjust="spacingAndGlyphs">12</text>
<text x="422.6" y="1389.8" font-size="17" text-anchor="middle" fill="#1e212b" font-weight="normal" textLength="16.8" lengthAdjust="spacingAndGlyphs">21</text>
<text x="556.2" y="1389.8" font-size="17.5" text-anchor="middle" fill="#1e212b" font-weight="normal" stroke="#1e212b" stroke-width="0.3">Jun</text>
<text x="673.2" y="1389.8" font-size="17" text-anchor="middle" fill="#1e212b" font-weight="normal" textLength="16.8" lengthAdjust="spacingAndGlyphs">11</text>
<text x="790.1" y="1389.8" font-size="17" text-anchor="middle" fill="#1e212b" font-weight="normal" textLength="16.8" lengthAdjust="spacingAndGlyphs">20</text>
<text x="907.0" y="1389.8" font-size="17.5" text-anchor="middle" fill="#1e212b" font-weight="normal" stroke="#1e212b" stroke-width="0.3">Jul</text>
<text x="1023.9" y="1389.8" font-size="17" text-anchor="middle" fill="#1e212b" font-weight="normal" textLength="16.8" lengthAdjust="spacingAndGlyphs">10</text>
<text x="1140.9" y="1389.8" font-size="17" text-anchor="middle" fill="#1e212b" font-weight="normal" textLength="16.8" lengthAdjust="spacingAndGlyphs">21</text>
<text x="1291.2" y="1389.8" font-size="17.5" text-anchor="middle" fill="#1e212b" font-weight="normal" stroke="#1e212b" stroke-width="0.3">Aug</text>
<text x="1408.1" y="1389.8" font-size="17" text-anchor="middle" fill="#1e212b" font-weight="normal" textLength="16.8" lengthAdjust="spacingAndGlyphs">12</text>
<text x="1525.1" y="1389.8" font-size="17" text-anchor="middle" fill="#1e212b" font-weight="normal" textLength="16.8" lengthAdjust="spacingAndGlyphs">21</text>
<text x="1642.0" y="1389.8" font-size="17.5" text-anchor="middle" fill="#1e212b" font-weight="normal" stroke="#1e212b" stroke-width="0.3">Sep</text>
<text x="1758.9" y="1389.8" font-size="17" text-anchor="middle" fill="#1e212b" font-weight="normal" textLength="16.8" lengthAdjust="spacingAndGlyphs">10</text>
<text x="1875.8" y="1389.8" font-size="17" text-anchor="middle" fill="#1e212b" font-weight="normal" textLength="16.8" lengthAdjust="spacingAndGlyphs">19</text>
<text x="2009.5" y="1389.8" font-size="17.5" text-anchor="middle" fill="#1e212b" font-weight="normal" stroke="#1e212b" stroke-width="0.3">Oct</text>
<text x="2126.4" y="1389.8" font-size="17" text-anchor="middle" fill="#1e212b" font-weight="normal" textLength="16.8" lengthAdjust="spacingAndGlyphs">10</text>
<text x="2243.3" y="1389.8" font-size="17" text-anchor="middle" fill="#1e212b" font-weight="normal" textLength="16.8" lengthAdjust="spacingAndGlyphs">21</text>
<text x="2393.7" y="1389.8" font-size="17.5" text-anchor="middle" fill="#1e212b" font-weight="normal" stroke="#1e212b" stroke-width="0.3">Nov</text>
<text x="23.5" y="38.0" font-size="15" text-anchor="start" fill="#1e212b" font-weight="normal" textLength="502" lengthAdjust="spacingAndGlyphs" xml:space="preserve">USD/CAD, 1D&#160;&#160;O1.40049&#160;&#160;H1.40134&#160;&#160;L1.39704&#160;&#160;C1.39934&#160;&#160;−0.00026 (−0.02%)</text>
<text x="23.5" y="58.7" font-size="15" text-anchor="start" fill="#1e212b" font-weight="normal" textLength="181.7" lengthAdjust="spacingAndGlyphs" xml:space="preserve">EMA (50, close, 0)&#160;&#160;1.39142</text>
<text x="23.5" y="79.5" font-size="15" text-anchor="start" fill="#1e212b" font-weight="normal" textLength="189.2" lengthAdjust="spacingAndGlyphs" xml:space="preserve">EMA (200, close, 0)&#160;&#160;1.38892</text>
<text x="23.5" y="1257.6" font-size="15.2" text-anchor="start" fill="#1e212b" font-weight="normal" textLength="50" lengthAdjust="spacingAndGlyphs">RSI (14)</text>
<text x="84" y="1257.6" font-size="15.2" text-anchor="start" fill="#7e57c2" font-weight="normal" textLength="36" lengthAdjust="spacingAndGlyphs">56.19</text>
<g fill="#131722"><path d="M13 1420h10v12h-5v-7.2h-5z"/><circle cx="26.8" cy="1422.5" r="2.5"/><path d="M30.9 1420h6.4l-4.7 12h-5.6z"/></g>
<text x="42.2" y="1431.9" font-size="15.3" text-anchor="start" fill="#131722" font-weight="normal" textLength="87.3" lengthAdjust="spacingAndGlyphs" fill-opacity="0.85">TradingView</text>
</svg></body></html>
